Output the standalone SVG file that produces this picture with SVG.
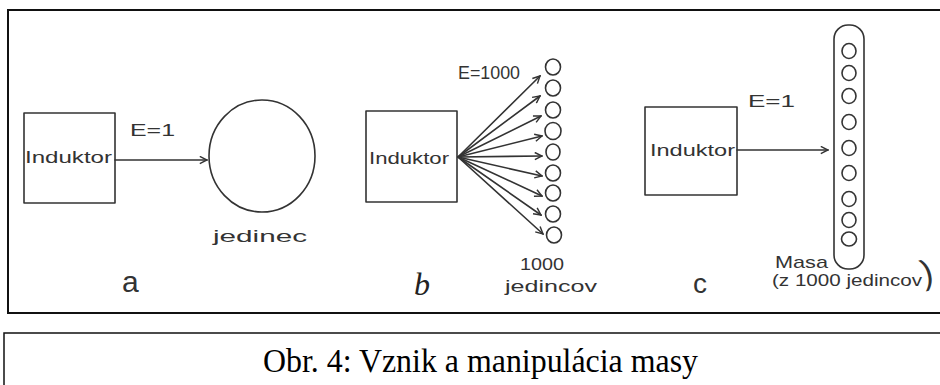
<svg xmlns="http://www.w3.org/2000/svg" width="940" height="385" viewBox="0 0 940 385">
<style>
  .ln{fill:none;stroke:#333;stroke-width:1.6;stroke-linecap:round;stroke-linejoin:round}
  .hd{font-family:"Liberation Sans","DejaVu Sans",sans-serif;fill:#333}
  .frame{fill:none;stroke:#111;stroke-width:2}
  .cap{font-family:"Liberation Serif","Times New Roman",serif;fill:#000;font-size:33px}
</style>
<defs>
  <marker id="ah" viewBox="0 0 10 10" refX="9" refY="5" markerWidth="9" markerHeight="9" markerUnits="userSpaceOnUse" orient="auto">
    <path d="M1,1 L9,5 L1,9" fill="none" stroke="#333" stroke-width="1.6"/>
  </marker>
</defs>
<rect width="940" height="385" fill="#fff"/>
<!-- outer frame -->
<rect class="frame" x="8" y="10" width="940" height="303"/>
<!-- caption frame -->
<rect x="4" y="333" width="945" height="60" fill="none" stroke="#111" stroke-width="1.5"/>
<text class="cap" x="263" y="372" textLength="435" lengthAdjust="spacingAndGlyphs">Obr. 4: Vznik a manipulácia masy</text>

<!-- panel a -->
<g id="a-induktor">
  <rect class="ln" x="24" y="113" width="91" height="90"/>
  <text class="hd" x="25" y="163" font-size="16" textLength="87" lengthAdjust="spacingAndGlyphs">Induktor</text>
</g>
<g id="a-jedinec">
  <ellipse class="ln" cx="262" cy="156" rx="53" ry="56"/>
  <text class="hd" x="213" y="242" font-size="17" textLength="94" lengthAdjust="spacingAndGlyphs">jedinec</text>
</g>
<text class="hd" x="130" y="136" font-size="17" textLength="45" lengthAdjust="spacingAndGlyphs">E=1</text>
<text class="hd" x="122" y="292" font-size="30">a</text>

<!-- panel b -->
<g id="b-induktor">
  <rect class="ln" x="366" y="111" width="91" height="91"/>
  <text class="hd" x="369" y="164" font-size="16" textLength="80" lengthAdjust="spacingAndGlyphs">Induktor</text>
</g>
<g id="b-jedinci">
  <ellipse class="ln" cx="553" cy="67" rx="7.5" ry="8"/>
  <ellipse class="ln" cx="553" cy="88" rx="7.5" ry="8"/>
  <ellipse class="ln" cx="553" cy="110" rx="7.5" ry="8"/>
  <ellipse class="ln" cx="553" cy="131" rx="8" ry="8.5"/>
  <ellipse class="ln" cx="553" cy="152" rx="7" ry="8"/>
  <ellipse class="ln" cx="553" cy="173" rx="7.5" ry="8"/>
  <ellipse class="ln" cx="553" cy="193" rx="7.5" ry="8"/>
  <ellipse class="ln" cx="553" cy="214" rx="7.5" ry="8"/>
  <ellipse class="ln" cx="554" cy="235" rx="7.5" ry="8"/>
  <text class="hd" x="520" y="270" font-size="16" textLength="44" lengthAdjust="spacingAndGlyphs">1000</text>
  <text class="hd" x="505" y="292" font-size="17" textLength="92" lengthAdjust="spacingAndGlyphs">jedincov</text>
</g>
<text class="hd" x="458" y="79" font-size="18" textLength="62" lengthAdjust="spacingAndGlyphs">E=1000</text>
<text x="414" y="295" font-family="Liberation Serif,serif" font-style="italic" font-size="32" fill="#222">b</text>

<!-- panel c -->
<g id="c-induktor">
  <rect class="ln" x="645" y="107" width="92" height="88"/>
  <text class="hd" x="650" y="156" font-size="16" textLength="85" lengthAdjust="spacingAndGlyphs">Induktor</text>
</g>
<g id="c-masa">
  <rect class="ln" x="834" y="25" width="30" height="244" rx="14" ry="14"/>
  <ellipse class="ln" cx="849" cy="51" rx="7" ry="7.5"/>
  <ellipse class="ln" cx="849" cy="73" rx="7" ry="7.5"/>
  <ellipse class="ln" cx="849" cy="96" rx="7" ry="7.5"/>
  <ellipse class="ln" cx="849" cy="122" rx="7" ry="7.5"/>
  <ellipse class="ln" cx="849" cy="148" rx="7" ry="7.5"/>
  <ellipse class="ln" cx="849" cy="173" rx="7" ry="7.5"/>
  <ellipse class="ln" cx="849" cy="199" rx="7" ry="7.5"/>
  <ellipse class="ln" cx="849" cy="220" rx="7" ry="7.5"/>
  <ellipse class="ln" cx="849" cy="239" rx="7.5" ry="7"/>
  <text class="hd" x="775" y="268" font-size="17" textLength="53" lengthAdjust="spacingAndGlyphs">Masa</text>
  <text class="hd" x="772" y="286" font-size="16" textLength="150" lengthAdjust="spacingAndGlyphs">(z 1000 jedincov</text>
  <text class="hd" x="921" y="284" font-size="34" transform="rotate(-14 926 272)">)</text>
</g>
<text class="hd" x="748" y="107" font-size="17" textLength="47" lengthAdjust="spacingAndGlyphs">E=1</text>
<text class="hd" x="693" y="293" font-size="28">c</text>

<!-- connectors -->
<g id="connectors" class="ln" marker-end="url(#ah)">
  <line x1="115" y1="160" x2="207" y2="160"/>
  <line x1="458" y1="157" x2="540" y2="76"/>
  <line x1="458" y1="157" x2="540" y2="96"/>
  <line x1="458" y1="157" x2="541" y2="116"/>
  <line x1="458" y1="157" x2="542" y2="136"/>
  <line x1="458" y1="157" x2="542" y2="156"/>
  <line x1="458" y1="157" x2="542" y2="176"/>
  <line x1="458" y1="157" x2="542" y2="196"/>
  <line x1="458" y1="157" x2="541" y2="215"/>
  <line x1="458" y1="157" x2="543" y2="234"/>
  <line x1="737" y1="150" x2="828" y2="150"/>
</g>
</svg>
